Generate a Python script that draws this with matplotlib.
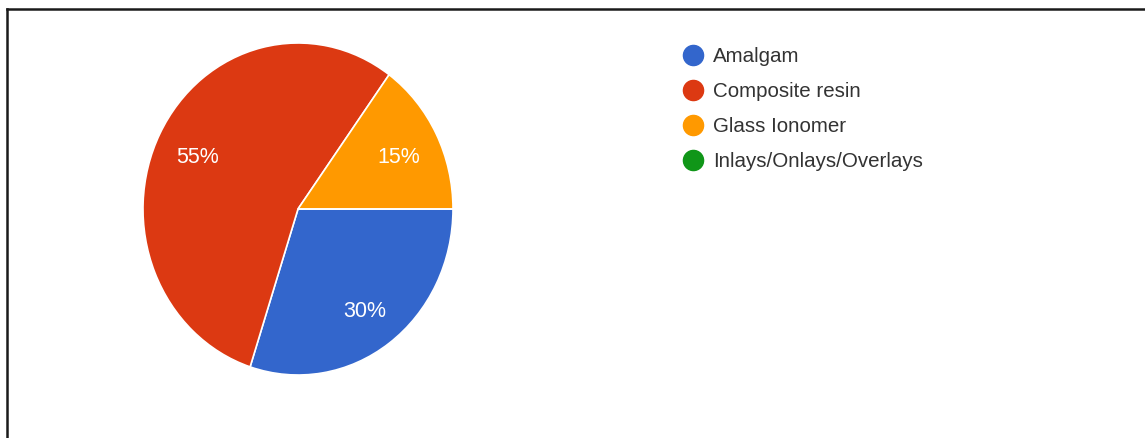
import matplotlib.pyplot as plt
import matplotlib.transforms as mtransforms
from matplotlib.lines import Line2D

# 修复材料使用比例
labels = ['Amalgam', 'Composite resin', 'Glass Ionomer', 'Inlays/Onlays/Overlays']
values = [30, 55, 15, 0]
colors = ['#3366cc', '#dc3912', '#ff9900', '#109618']

plt.rcParams['font.family'] = ['Liberation Sans', 'DejaVu Sans']

fig = plt.figure(figsize=(11.45, 4.38), dpi=100)
W, H = 1145, 438

# 饼图区域(像素换算成比例)
ax = fig.add_axes([143 / W, (H - 375) / H, 310 / W, 332 / H])


def pct(p):
    if p < 0.5:
        return ''
    return '%d%%' % round(p)


wedges, texts, autotexts = ax.pie(values, colors=colors, startangle=0, counterclock=False,
                                  autopct=pct, pctdistance=0.73,
                                  wedgeprops={'edgecolor': 'white', 'linewidth': 1.2},
                                  textprops={'color': 'white', 'fontsize': 15.5})
# 百分比文字稍微下移
shift = mtransforms.ScaledTranslation(0, -4 / 100, fig.dpi_scale_trans)
for t in autotexts:
    t.set_transform(t.get_transform() + shift)

ax.set_aspect('auto')
ax.set_xlim(-1, 1)
ax.set_ylim(-1, 1)
ax.axis('off')

# 图例
handles = [Line2D([], [], marker='o', linestyle='none', markersize=14.5,
                  markerfacecolor=c, markeredgecolor=c) for c in colors]
fig.legend(handles, labels, loc='upper left', bbox_to_anchor=(666 / W, 1 - 37 / H),
           frameon=False, fontsize=14.8, labelcolor='#333333',
           handletextpad=0.2, labelspacing=0.78, handlelength=1.6, borderpad=0)

# 外框线(上、左)
fig.add_artist(Line2D([7 / W, 1], [1 - 9 / H, 1 - 9 / H], color='#1a1a1a', linewidth=1.8))
fig.add_artist(Line2D([7 / W, 7 / W], [0, 1 - 9 / H], color='#1a1a1a', linewidth=1.8))

fig.savefig('out.png', dpi=100, facecolor='white')
